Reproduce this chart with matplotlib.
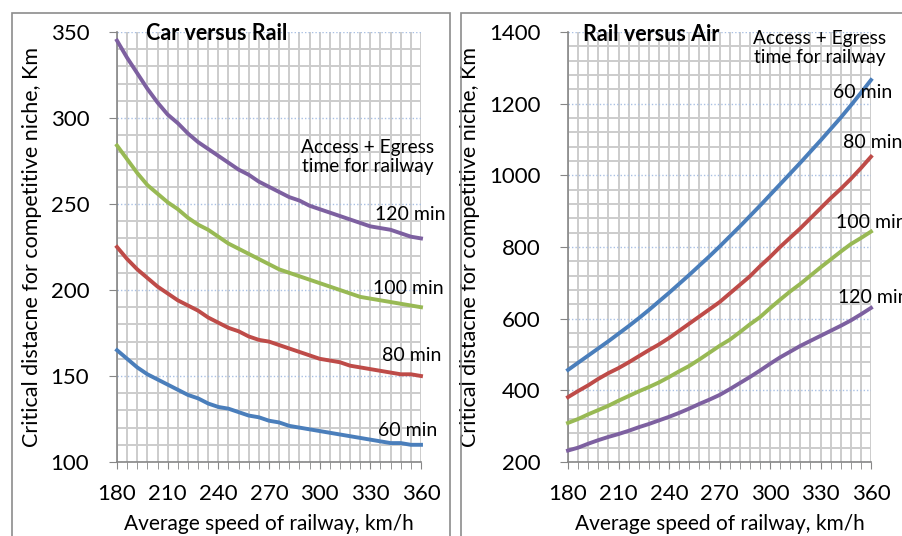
import matplotlib
matplotlib.use('Agg')
from matplotlib import pyplot as plt
from matplotlib.patches import Rectangle

plt.rcParams['font.family'] = ['Lato', 'DejaVu Sans']

speed = list(range(180, 361, 6))
xticks = [180, 210, 240, 270, 300, 330, 360]

# Car versus Rail, critical distance (km) per access+egress time
car_60 = [165, 160, 155, 151, 148, 145, 142, 139, 137, 134, 132, 131, 129, 127, 126, 124,
          123, 121, 120, 119, 118, 117, 116, 115, 114, 113, 112, 111, 111, 110, 110]
car_80 = [225, 218, 212, 207, 202, 198, 194, 191, 188, 184, 181, 178, 176, 173, 171, 170,
          168, 166, 164, 162, 160, 159, 158, 156, 155, 154, 153, 152, 151, 151, 150]
car_100 = [284, 276, 268, 261, 256, 251, 247, 242, 238, 235, 231, 227, 224, 221, 218, 215,
           212, 210, 208, 206, 204, 202, 200, 198, 196, 195, 194, 193, 192, 191, 190]
car_120 = [345, 335, 326, 317, 309, 302, 297, 291, 286, 282, 278, 274, 270, 267, 263, 260,
           257, 254, 252, 249, 247, 245, 243, 241, 239, 237, 236, 235, 233, 231, 230]

# Rail versus Air
air_60 = [457, 477, 497, 517, 537, 558, 579, 601, 624, 648, 672, 697, 722, 748, 774, 801,
          829, 857, 886, 915, 945, 975, 1005, 1035, 1066, 1097, 1129, 1161, 1195, 1230, 1266]
air_80 = [381, 398, 414, 432, 448, 462, 478, 495, 512, 528, 546, 566, 586, 606, 626, 646,
          670, 694, 718, 746, 772, 800, 826, 852, 880, 908, 936, 962, 990, 1020, 1052]
air_100 = [309, 320, 333, 345, 357, 371, 384, 397, 409, 422, 437, 453, 468, 486, 505, 524,
           541, 562, 584, 604, 629, 653, 676, 697, 720, 743, 765, 787, 808, 825, 843]
air_120 = [232, 240, 251, 261, 270, 278, 287, 297, 306, 316, 326, 337, 349, 362, 374, 387,
           403, 420, 437, 455, 474, 492, 508, 524, 538, 552, 566, 580, 595, 612, 630]

colors = {'60': '#4A7EBB', '80': '#BE4B48', '100': '#98B954', '120': '#7D60A0'}

W, H = 902, 536
fig = plt.figure(figsize=(W / 100, H / 100), dpi=100)

# chart frames
fig.patches.append(Rectangle((12 / W, -0.05), 438 / W, 1.05 - 13 / H, transform=fig.transFigure,
                             fill=False, edgecolor='#8c8c8c', lw=1.2))
fig.patches.append(Rectangle((461 / W, -0.05), 0.5, 1.05 - 13 / H, transform=fig.transFigure,
                             fill=False, edgecolor='#8c8c8c', lw=1.2))


def style_axes(ax, ylim, ymajor, yminor):
    ax.set_xlim(180, 360)
    ax.set_ylim(*ylim)
    ax.set_xticks(xticks)
    ax.set_xticks(speed, minor=True)
    ax.set_yticks(range(ylim[0], ylim[1] + 1, ymajor))
    ax.set_yticks(range(ylim[0], ylim[1] + 1, yminor), minor=True)
    ax.grid(True, which='minor', axis='both', color='#cccccc', lw=1.4, zorder=0)
    ax.grid(True, which='major', axis='x', color='#cccccc', lw=1.4, zorder=0)
    ax.grid(True, which='major', axis='y', color='#a9c0e3', lw=1.0, ls=(0, (1, 1.5)), zorder=0)
    for s in ['top', 'right']:
        ax.spines[s].set_visible(False)
    for s in ['left', 'bottom']:
        ax.spines[s].set_color('#868686')
        ax.spines[s].set_linewidth(1.2)
    ax.tick_params(axis='x', which='both', direction='out', length=5, color='#868686',
                   labelsize=16, pad=11)
    ax.tick_params(axis='y', which='major', direction='out', length=6, color='#868686',
                   labelsize=16, pad=14)
    ax.tick_params(axis='y', which='minor', length=0)
    ax.set_xlabel('Average speed of railway, km/h', fontsize=15, labelpad=7)
    ax.set_ylabel('Critical distacne for competitive niche, Km', fontsize=15.5, labelpad=6)
    ax.set_axisbelow(True)


ax1 = fig.add_axes([117 / W, 74 / H, 304 / W, 430 / H])
style_axes(ax1, (100, 350), 50, 10)
for key, vals in [('60', car_60), ('80', car_80), ('100', car_100), ('120', car_120)]:
    ax1.plot(speed, vals, color=colors[key], lw=2.8, clip_on=False, zorder=3)
ax1.text(239, 349, 'Car versus Rail', fontsize=15.5, fontweight='bold', ha='center', va='center')
ax1.text(328.6, 277.3, 'Access + Egress\ntime for railway', fontsize=13.8, ha='center',
         va='center', linespacing=1.15)
ax1.text(332.8, 244, '120 min', fontsize=14, ha='left', va='center')
ax1.text(331.6, 200.6, '100 min', fontsize=14, ha='left', va='center')
ax1.text(336.9, 162.2, '80 min', fontsize=14, ha='left', va='center')
ax1.text(334.5, 118.6, '60 min', fontsize=14, ha='left', va='center')

ax2 = fig.add_axes([568 / W, 74 / H, 303 / W, 430 / H])
style_axes(ax2, (200, 1400), 200, 40)
for key, vals in [('60', air_60), ('80', air_80), ('100', air_100), ('120', air_120)]:
    ax2.plot(speed, vals, color=colors[key], lw=2.8, clip_on=False, zorder=3)
ax2.text(229.3, 1394, 'Rail versus Air', fontsize=15.5, fontweight='bold', ha='center',
         va='center')
ax2.text(329.7, 1356, 'Access + Egress\ntime for railway', fontsize=13.8, ha='center',
         va='center', linespacing=1.15)
ax2.text(337.5, 1230, '60 min', fontsize=14, ha='left', va='center')
ax2.text(343.4, 1093, '80 min', fontsize=14, ha='left', va='center')
ax2.text(339.2, 867, '100 min', fontsize=14, ha='left', va='center')
ax2.text(340.4, 658, '120 min', fontsize=14, ha='left', va='center')

fig.savefig('out.png', dpi=100)
